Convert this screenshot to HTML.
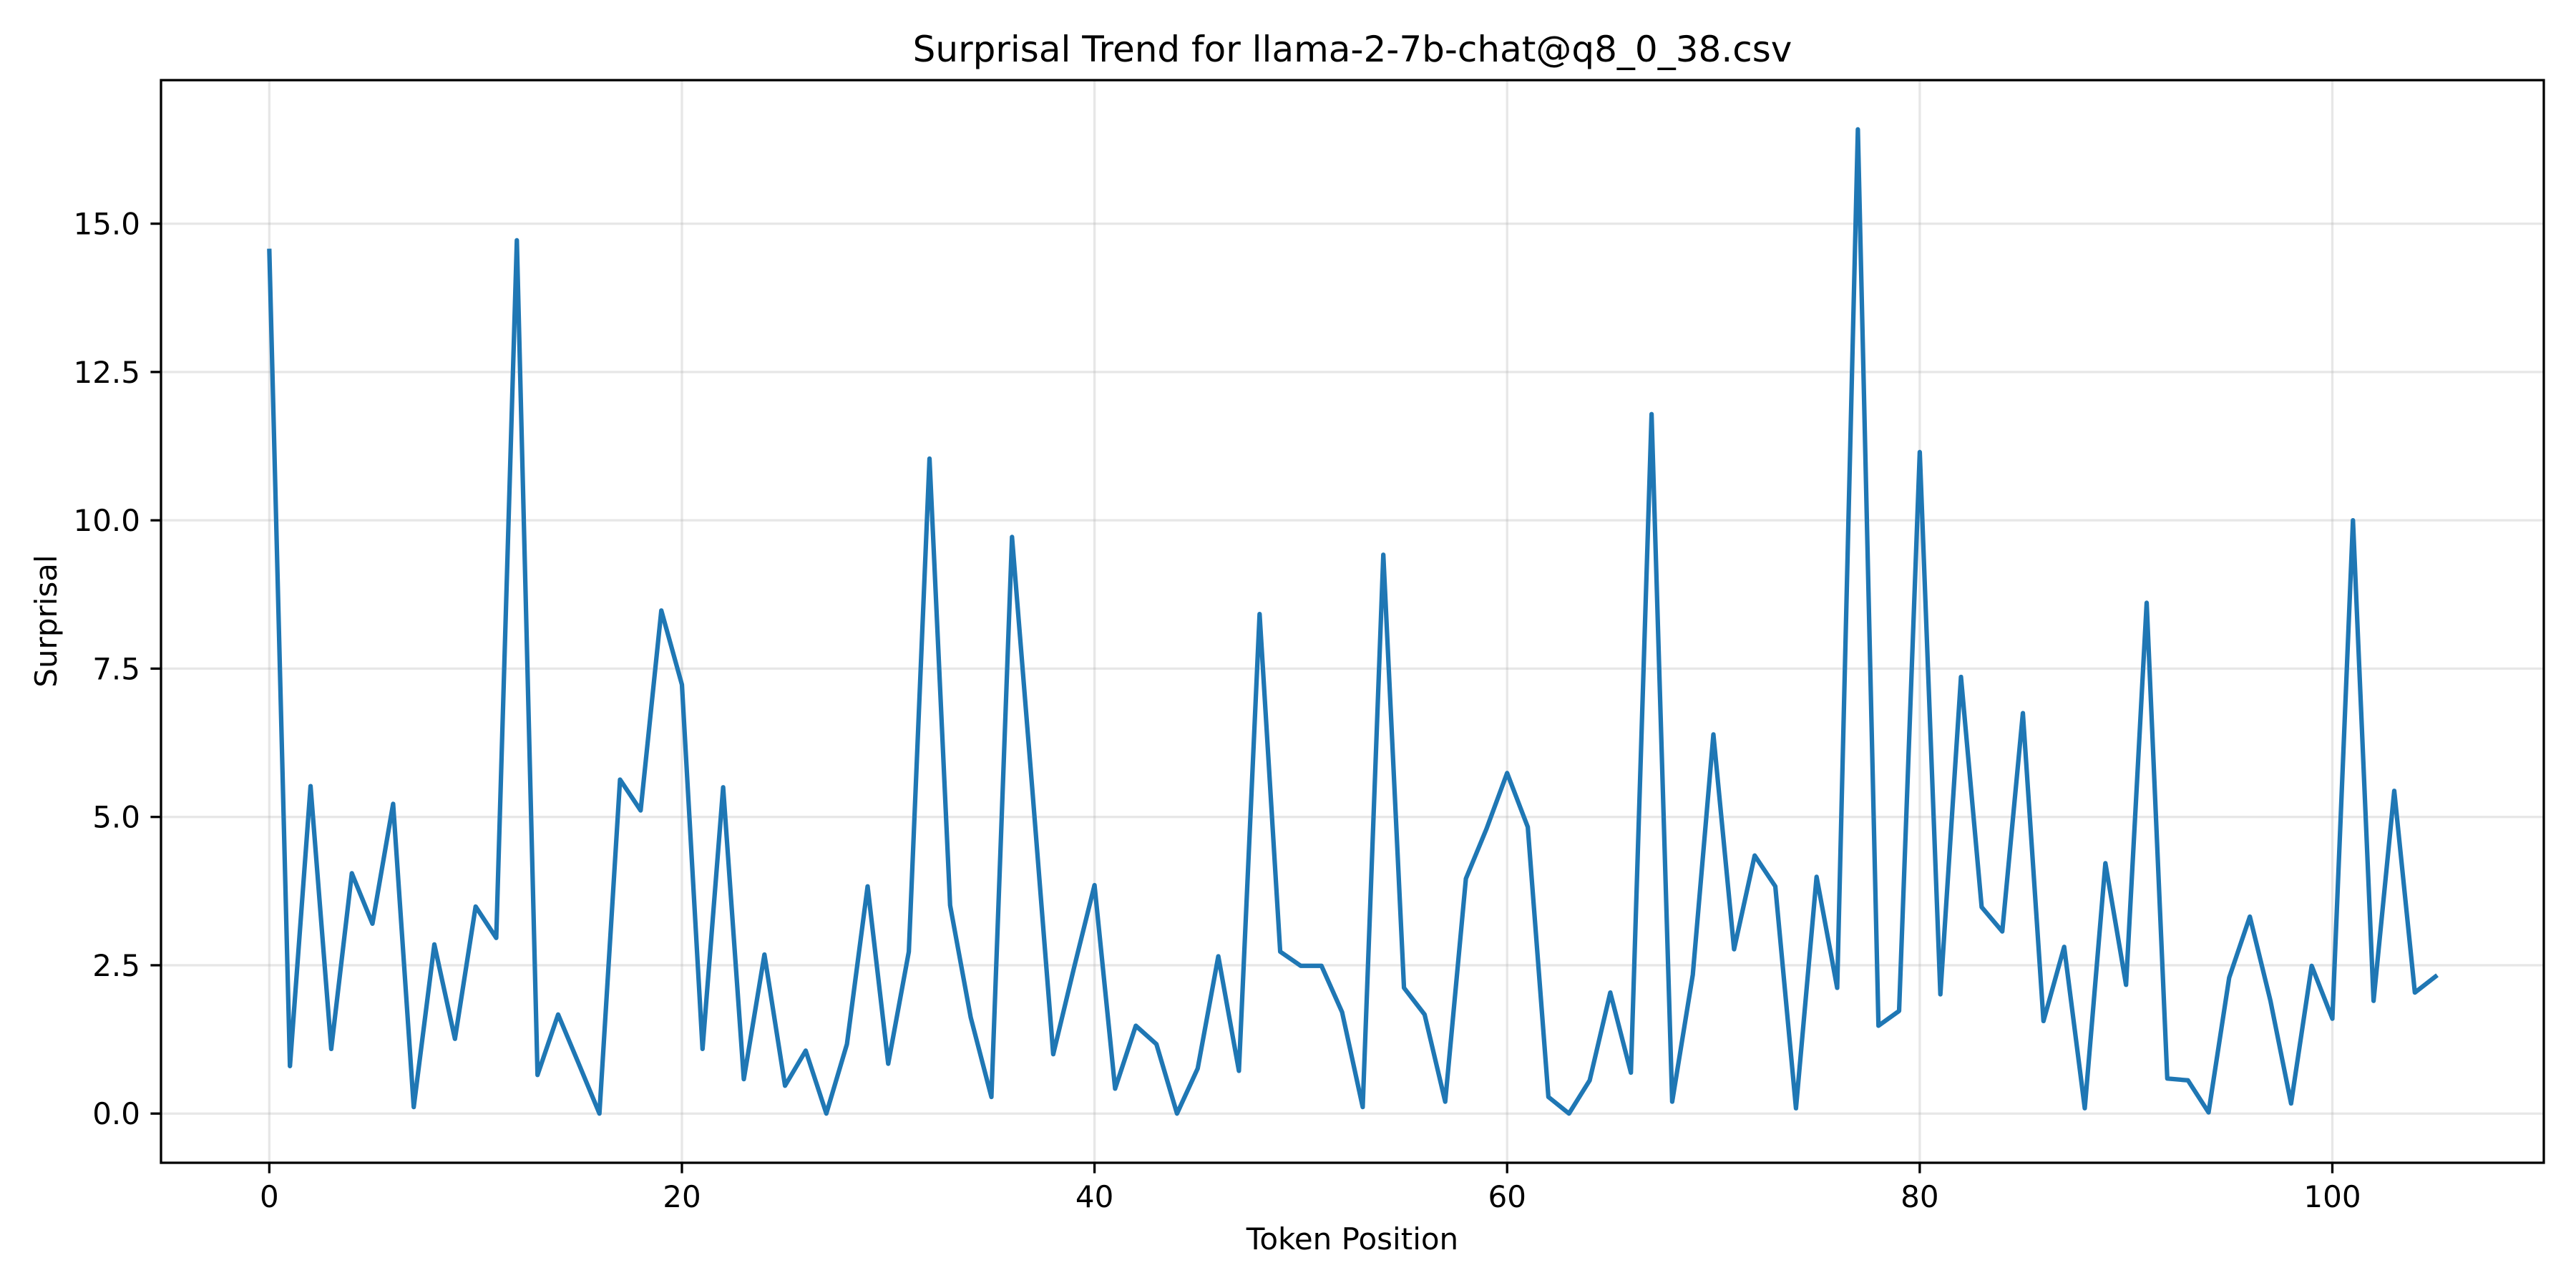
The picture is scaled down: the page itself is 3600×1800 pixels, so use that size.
<!DOCTYPE html>
<html><head><meta charset="utf-8">
<style>
html,body{margin:0;padding:0;background:#fff;}
svg{display:block;font-family:"DejaVu Sans","Liberation Sans",sans-serif;}
</style></head>
<body>
<svg id="chart" width="3600" height="1800" viewBox="0 0 3600 1800" xmlns="http://www.w3.org/2000/svg">
<rect x="0" y="0" width="3600" height="1800" fill="#fff"/>
<g id="grid"></g>
<g id="series"></g>
<rect x="225" y="112" width="3330" height="1513" fill="none" stroke="#000" stroke-width="3.3"/>
<g id="ticks"></g>
<text x="1890" y="86" font-size="50" text-anchor="middle">Surprisal Trend for llama-2-7b-chat@q8_0_38.csv</text>
<text x="1890" y="1746" font-size="42" text-anchor="middle">Token Position</text>
<text x="0" y="0" font-size="42" text-anchor="middle" transform="translate(79,868) rotate(-90)">Surprisal</text>
</svg>
<script>
const surprisal = [14.54,0.80,5.52,1.09,4.05,3.20,5.22,0.11,2.85,1.26,3.49,2.96,14.72,0.65,1.67,0.84,0.0,5.63,5.11,8.48,7.23,1.09,5.50,0.58,2.68,0.47,1.06,0.0,1.17,3.83,0.84,2.73,11.04,3.51,1.62,0.28,9.72,5.4,1.0,2.45,3.85,0.42,1.48,1.17,0.0,0.76,2.65,0.72,8.42,2.73,2.49,2.49,1.71,0.11,9.42,2.12,1.67,0.2,3.96,4.8,5.74,4.83,0.28,0.0,0.56,2.04,0.69,11.79,0.2,2.34,6.39,2.77,4.35,3.83,0.09,3.99,2.12,16.59,1.48,1.73,11.15,2.01,7.36,3.48,3.07,6.75,1.56,2.81,0.09,4.22,2.17,8.61,0.59,0.56,0.02,2.29,3.32,1.9,0.17,2.49,1.6,10.0,1.9,5.44,2.04,2.31];
const xTicks = [0,20,40,60,80,100];
const yTicks = [0,2.5,5,7.5,10,12.5,15];
const yTickLabels = ["0.0","2.5","5.0","7.5","10.0","12.5","15.0"];

const NS = "http://www.w3.org/2000/svg";
const L=225, R=3555, T=112, B=1625;
const n = surprisal.length;
const xmin = -0.05*(n-1), xmax = (n-1)*1.05;
const ymaxD = Math.max(...surprisal), yminD = Math.min(...surprisal);
const ymin = yminD-0.05*(ymaxD-yminD), ymax = ymaxD+0.05*(ymaxD-yminD);
const xs = v => L + (v-xmin)/(xmax-xmin)*(R-L);
const ys = v => B - (v-ymin)/(ymax-ymin)*(B-T);
function mk(tag, attrs, parent){const e=document.createElementNS(NS,tag);for(const k in attrs)e.setAttribute(k,attrs[k]);parent.appendChild(e);return e;}
const grid=document.getElementById('grid'), ticks=document.getElementById('ticks'), series=document.getElementById('series');
xTicks.forEach(t=>{
  const x=xs(t);
  const g=mk('line',{x1:x,x2:x,y1:T,y2:B,stroke:'#b0b0b0','stroke-opacity':0.3,'stroke-width':3.3},grid);
  
  
  const tk=mk('line',{x1:x,x2:x,y1:B,y2:B+14.6,stroke:'#000','stroke-width':3.3},ticks);
  
  
  const lb=mk('text',{x:x,y:B+62,'font-size':42,'text-anchor':'middle'},ticks);
  
  
  lb.textContent=String(t);
});
yTicks.forEach((t,i)=>{
  const y=ys(t);
  const g=mk('line',{x1:L,x2:R,y1:y,y2:y,stroke:'#b0b0b0','stroke-opacity':0.3,'stroke-width':3.3},grid);
  
  
  const tk=mk('line',{x1:L-14.6,x2:L,y1:y,y2:y,stroke:'#000','stroke-width':3.3},ticks);
  
  
  const lb=mk('text',{x:L-29,y:y+15,'font-size':42,'text-anchor':'end'},ticks);
  
  
  lb.textContent=yTickLabels[i];
});
const pts=surprisal.map((v,i)=>xs(i).toFixed(1)+','+ys(v).toFixed(1)).join(' ');
const line=mk('polyline',{points:pts,fill:'none',stroke:'#1f77b4','stroke-width':6.25,'stroke-linejoin':'round','stroke-linecap':'square'},series);


</script>
</body></html>
